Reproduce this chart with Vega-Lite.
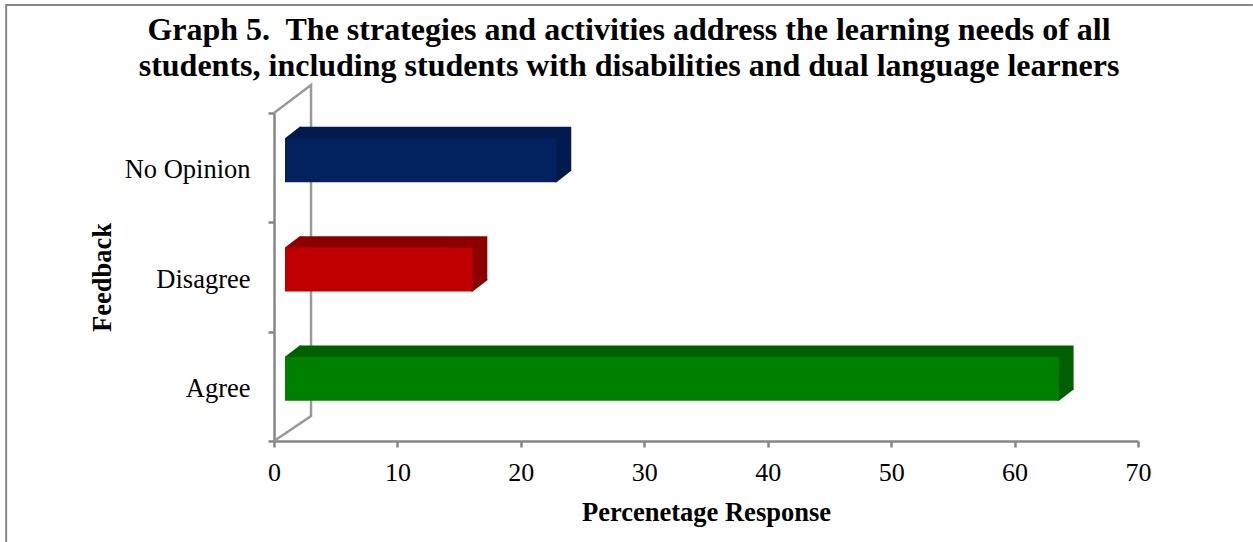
{
"$schema":"https://vega.github.io/schema/vega-lite/v6.json",
"width":864,"height":328,
"autosize":"none",
"padding":{"left":274,"top":113,"right":115,"bottom":101},
"background":"white",
"title":{"text":["Graph 5.\u00a0 The strategies and activities address the learning needs of all","students, including students with disabilities and dual language learners"],"font":"Liberation Serif","fontSize":32,"fontWeight":"bold","color":"black","anchor":"middle","frame":"group","dx":-77,"offset":-82,"lineHeight":36},
"config":{"view":{"stroke":null},"font":"Liberation Serif"},
"datasets":{
"bars":[{"feedback":"No Opinion","value":22},{"feedback":"Disagree","value":15.2},{"feedback":"Agree","value":62.7}],
"wall":[{"i":0,"x":0,"u":0},{"i":1,"x":3,"u":25},{"i":2,"x":3,"u":356},{"i":3,"x":0,"u":328}],
"frame":[{"i":0,"x":79.3,"u":436},{"i":1,"x":-21.7,"u":436},{"i":2,"x":-21.7,"u":-101}]
},
"resolve":{"scale":{"y":"independent","color":"independent"},"axis":{"y":"independent"}},
"layer":[
{"data":{"name":"frame"},"mark":{"type":"line","color":"#868686","strokeWidth":2,"clip":false},
"encoding":{"x":{"field":"x","type":"quantitative","scale":{"domain":[0,70]},"axis":{"values":[0,10,20,30,40,50,60,70],"title":"Percenetage Response","titleFont":"Liberation Serif","titleFontSize":26.5,"titleFontWeight":"bold","titleColor":"black","titlePadding":14,"labelFont":"Liberation Serif","labelFontSize":26,"labelColor":"black","labelPadding":12,"domainColor":"#868686","domainWidth":2.5,"tickColor":"#868686","tickWidth":2.5,"tickSize":6,"grid":false,"labelOverlap":false,"labelFlush":false}},
"y":{"field":"u","type":"quantitative","scale":{"domain":[0,328]},"axis":null},"order":{"field":"i"}}},
{"data":{"name":"wall"},"mark":{"type":"line","color":"#999999","strokeWidth":2.5},
"encoding":{"x":{"field":"x","type":"quantitative"},"y":{"field":"u","type":"quantitative","scale":{"domain":[0,328]},"axis":null},"order":{"field":"i"}}},
{"data":{"name":"bars"},"mark":{"type":"bar","height":44,"xOffset":25.7,"yOffset":-18.8},
"encoding":{"x":{"field":"value","type":"quantitative"},
"y":{"field":"feedback","type":"nominal","sort":["No Opinion","Disagree","Agree"],"scale":{"domain":["No Opinion","Disagree","Agree"],"paddingInner":0,"paddingOuter":0},"axis":null},
"color":{"field":"feedback","type":"nominal","legend":null,"scale":{"domain":["No Opinion","Disagree","Agree"],"range":["#021a4c","#8c0000","#005f00"]}}}},
{"data":{"name":"bars"},"mark":{"type":"point","filled":true,"opacity":1,"strokeWidth":0,"size":216,"shape":"M-1 0.77 L1 -0.77 L1.2 -0.77 L1.2 0.9 L-1 0.9 Z","xOffset":18.35,"yOffset":-35.15},
"encoding":{"x":{"datum":0,"type":"quantitative"},
"y":{"field":"feedback","type":"nominal","sort":["No Opinion","Disagree","Agree"],"scale":{"domain":["No Opinion","Disagree","Agree"],"paddingInner":0,"paddingOuter":0},"axis":null},
"color":{"field":"feedback","type":"nominal","legend":null,"scale":{"domain":["No Opinion","Disagree","Agree"],"range":["#021a4c","#8c0000","#005f00"]}}}},
{"data":{"name":"bars"},"mark":{"type":"point","filled":true,"opacity":1,"strokeWidth":0,"size":216,"shape":"M-1 0.77 L1 -0.77 L1 -0.9 L-1.2 -0.9 L-1.2 0.77 Z","xOffset":18.35,"yOffset":8.85},
"encoding":{"x":{"field":"value","type":"quantitative"},
"y":{"field":"feedback","type":"nominal","sort":["No Opinion","Disagree","Agree"],"scale":{"domain":["No Opinion","Disagree","Agree"],"paddingInner":0,"paddingOuter":0},"axis":null},
"color":{"field":"feedback","type":"nominal","legend":null,"scale":{"domain":["No Opinion","Disagree","Agree"],"range":["#021a4c","#8c0000","#005f00"]}}}},
{"data":{"name":"bars"},"mark":{"type":"bar","height":44,"xOffset":11,"yOffset":-7.5},
"encoding":{"x":{"field":"value","type":"quantitative"},
"y":{"field":"feedback","type":"nominal","sort":["No Opinion","Disagree","Agree"],"scale":{"domain":["No Opinion","Disagree","Agree"],"paddingInner":0,"paddingOuter":0},"axis":{"orient":"left","title":"Feedback","titleFont":"Liberation Serif","titleFontSize":26.5,"titleFontWeight":"bold","titleColor":"black","titlePadding":8,"labelFont":"Liberation Serif","labelFontSize":26.5,"labelColor":"black","labelPadding":18,"labelOffset":2,"domainColor":"#868686","domainWidth":2.5,"tickColor":"#868686","tickWidth":2.5,"tickSize":6,"tickBand":"extent","grid":false}},
"color":{"field":"feedback","type":"nominal","legend":null,"scale":{"domain":["No Opinion","Disagree","Agree"],"range":["#03205f","#c00000","#008000"]}}}}
]
}
